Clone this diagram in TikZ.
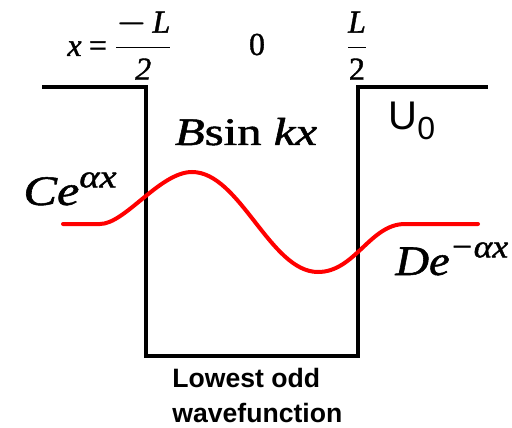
\documentclass[tikz,border=0pt]{standalone}
\usepackage{fontspec}
\setsansfont{Liberation Sans}
\newfontfamily\tnr[FakeBold=1.2]{Liberation Serif}
\newcommand{\supr}[1]{\raisebox{0.42em}{\fontsize{16}{18}\selectfont\tnr\itshape #1}}
\begin{document}
\begin{tikzpicture}[x=0.5pt,y=-0.5pt,
  well/.style={line width=2pt,line join=miter},
  wave/.style={red,line width=2pt,line cap=round},
  bigmath/.style={font=\tnr\fontsize{21}{24}\selectfont,inner sep=0pt},
  topmath/.style={font=\tnr\fontsize{16}{18}\selectfont,inner sep=0pt},
  sanslab/.style={font=\sffamily\fontsize{20}{24}\selectfont,inner sep=0pt},
  caption/.style={font=\sffamily\bfseries\fontsize{13.3}{17.5}\selectfont,align=left,inner sep=0pt}]
\useasboundingbox (0,0) rectangle (512,427);
% well
\draw[well] (42,87) -- (146,87) -- (146,356) -- (358,356) -- (358,87) -- (488,87);
% wavefunction
\draw[wave] (63,224) -- (100,224)
  .. controls (125,224) and (160,172) .. (192,172)
  .. controls (240,172) and (270,272) .. (318,272)
  .. controls (355,272) and (370,224) .. (405,224) -- (478,224);
% labels
\node[topmath,anchor=base west] (xl) at (67,56) {\itshape x\,=\,$\displaystyle\frac{\hbox{\boldmath$-$\,\tnr\itshape L}}{\hbox{\tnr 2}}$};
\node[topmath,anchor=base] (x0) at (257,55) {0};
\node[topmath,anchor=base] (xr) at (357,56) {$\displaystyle\frac{\hbox{\tnr\itshape L}}{\hbox{\tnr 2}}$};
\node[bigmath,anchor=base,font=\tnr\fontsize{19.5}{22}\selectfont] (bsin) at (246,145) {\scalebox{1.25}[1]{\itshape B\upshape sin \itshape kx}};
\node[bigmath,anchor=base west] (ce) at (23,205) {\scalebox{1.2}[1]{\itshape Ce\supr{αx}}};
\node[bigmath,anchor=base west] (de) at (395,275) {\scalebox{1.11}[1]{\itshape De\supr{−αx}}};
\node[sanslab,anchor=base west] (u0) at (388,130) {U\raisebox{-0.25em}{\fontsize{16}{18}\selectfont 0}};
\node[caption,anchor=west] (cap) at (172,395) {Lowest odd\\wavefunction};
\end{tikzpicture}
\end{document}
